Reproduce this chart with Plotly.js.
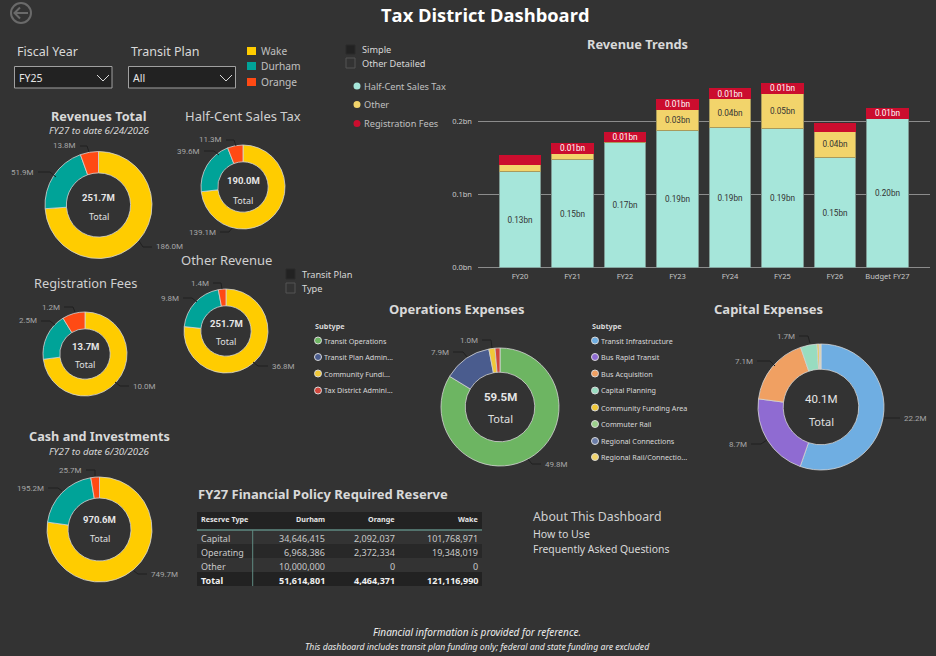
<!DOCTYPE html>
<html>
<head>
<meta charset="utf-8">
<script src="https://cdn.plot.ly/plotly-3.0.1.min.js"></script>
<style>html,body{margin:0;padding:0;background:#333333;overflow:hidden}#chart{width:936px;height:656px}</style>
</head>
<body>
<div id="chart"></div>
<script>
// ---------- data ----------
var districts = ['Wake', 'Durham', 'Orange'];
var districtColors = ['#FFCC00', '#00A398', '#FF4A14'];
var revenuesTotal = [186.0, 51.9, 13.8];
var halfCent = [139.1, 39.6, 11.3];
var registrationFees = [10.0, 2.5, 1.2];
var otherRevenue = [36.8, 9.8, 1.4];
var cashInvestments = [749.7, 195.2, 25.7];

var opsSubtypes = ['Transit Operations', 'Transit Plan Admin...', 'Community Fundi...', 'Tax District Admini...'];
var opsColors = ['#6DB562', '#4A5C8E', '#F0C838', '#D0463C'];
var opsValues = [49.8, 7.9, 1.0, 0.8];

var capSubtypes = ['Transit Infrastructure', 'Bus Rapid Transit', 'Bus Acquisition', 'Capital Planning', 'Community Funding Area', 'Commuter Rail', 'Regional Connections', 'Regional Rail/Connectio...'];
var capColors = ['#6FAEE2', '#8F6BD2', '#F0A062', '#98DCC0', '#F0C838', '#9CD08C', '#6A7CA8', '#F2D46B'];
var capValues = [22.2, 8.7, 7.1, 1.7, 0.2, 0.05, 0.05, 0.1];

var fiscalYears = ['FY20', 'FY21', 'FY22', 'FY23', 'FY24', 'FY25', 'FY26', 'Budget FY27'];
var salesTax = [0.131, 0.147, 0.171, 0.187, 0.191, 0.190, 0.1505, 0.203];
var otherRev = [0.010, 0.009, 0.0005, 0.0286, 0.0395, 0.048, 0.0355, 0.001];
var regFees = [0.012, 0.0136, 0.013, 0.014, 0.0136, 0.0136, 0.010, 0.0136];
var salesTaxText = ['0.13bn', '0.15bn', '0.17bn', '0.19bn', '0.19bn', '0.19bn', '0.15bn', '0.20bn'];
var otherRevText = ['', '', '', '0.03bn', '0.04bn', '0.05bn', '0.04bn', ''];
var regFeesText = ['', '0.01bn', '0.01bn', '0.01bn', '0.01bn', '0.01bn', '', '0.01bn'];

var reserveHeader = ['Reserve Type', 'Durham', 'Orange', 'Wake'];
var reserveTypes = ['Capital', 'Operating', 'Other', 'Total'];
var reserveDurham = ['34,646,415', '6,968,386', '10,000,000', '51,614,801'];
var reserveOrange = ['2,092,037', '2,372,334', '0', '4,464,371'];
var reserveWake = ['101,768,971', '19,348,019', '0', '121,116,990'];

// ---------- helpers ----------
var W = 936, H = 656;
var BODY = '"Noto Sans", sans-serif', NUM = 'Roboto, sans-serif';
function X(p) { return p / W; }
function Y(p) { return 1 - p / H; }
var annotations = [], shapes = [], traces = [];

function txt(x, y, t, o) {
  o = o || {};
  annotations.push({
    xref: 'paper', yref: 'paper', x: X(x), y: Y(y), text: t, showarrow: false,
    xanchor: o.anchor || 'center', yanchor: 'middle', borderpad: 0,
    font: { family: o.family || BODY, size: o.size || 10, color: o.color || '#d9d9d9' }
  });
}
function path(d, o) {
  shapes.push({ type: 'path', xref: 'paper', yref: 'paper', path: d,
    line: { color: o.line || 'rgba(0,0,0,0)', width: o.width === undefined ? 1 : o.width },
    fillcolor: o.fill || 'rgba(0,0,0,0)', layer: o.layer || 'above' });
}
function pxPath(points) {
  return points.map(function (p, i) { return (i ? 'L' : 'M') + X(p[0]) + ',' + Y(p[1]); }).join(' ');
}
function rect(x0, y0, x1, y1, o) {
  shapes.push({ type: 'rect', xref: 'paper', yref: 'paper', x0: X(x0), x1: X(x1), y0: Y(y0), y1: Y(y1),
    line: { color: o.line || 'rgba(0,0,0,0)', width: o.width === undefined ? 1 : o.width },
    fillcolor: o.fill || 'rgba(0,0,0,0)', layer: o.layer || 'above' });
}
function dot(x, y, r, o) {
  shapes.push({ type: 'circle', xref: 'paper', yref: 'paper', x0: X(x - r), x1: X(x + r), y0: Y(y + r), y1: Y(y - r),
    line: { color: o.line || 'rgba(0,0,0,0)', width: o.width === undefined ? 1 : o.width },
    fillcolor: o.fill || 'rgba(0,0,0,0)', layer: 'above' });
}

// g: placement of one donut; g.leaders: per labelled slice, three pixel points of the elbow from the label to the ring
function donut(g, names, values, colors) {
  traces.push({
    type: 'pie', labels: names, values: values, hole: g.hole, sort: false, direction: 'clockwise', rotation: 0,
    textinfo: 'none', hoverinfo: 'skip', showlegend: false,
    marker: { colors: colors, line: { color: '#d4d4d4', width: 0.8 } },
    domain: { x: [X(g.cx - g.r), X(g.cx + g.r)], y: [Y(g.cy + g.r), Y(g.cy - g.r)] }
  });
  txt(g.cx, g.yNum, g.total, { size: g.numSize, family: NUM, color: '#e6e6e6' });
  txt(g.cx, g.yTot, 'Total', { size: g.totSize, color: '#e0e0e0' });
  g.leaders.forEach(function (pts, i) {
    if (!pts) return;
    path(pxPath(pts), { line: '#202020', width: 1 });
    var right = pts[0][0] > g.cx;
    txt(pts[0][0] + (right ? 3 : -3), pts[0][1], values[i].toFixed(1) + 'M',
      { size: 8, color: '#a6a6a6', anchor: right ? 'left' : 'right', family: NUM });
  });
}

// ---------- donuts ----------
donut({ cx: 98.5, cy: 205, r: 53.5, hole: 0.6, total: '<b>251.7M</b>', numSize: 9.5, totSize: 9, yNum: 197, yTot: 216,
  leaders: [[[152, 247], [143, 247], [139, 241]], [[38, 172], [50, 172], [56, 177]], [[80, 146], [87, 146], [89, 152]]] },
  districts, revenuesTotal, districtColors);
donut({ cx: 243, cy: 187, r: 42, hole: 0.6, total: '<b>190.0M</b>', numSize: 9.5, totSize: 9, yNum: 181, yTot: 200,
  leaders: [[[220, 232], [229, 232], [232, 228]], [[204, 151], [214, 151], [219, 155]], [[226, 140], [234, 140], [236, 146]]] },
  districts, halfCent, districtColors);
donut({ cx: 85, cy: 354, r: 42, hole: 0.6, total: '<b>13.7M</b>', numSize: 9.5, totSize: 9, yNum: 346, yTot: 364,
  leaders: [[[129, 386], [120, 386], [115, 382]], [[41, 321], [50, 321], [55, 325]], [[64, 307], [73, 307], [75, 312]]] },
  districts, registrationFees, districtColors);
donut({ cx: 226, cy: 331, r: 42, hole: 0.6, total: '<b>251.7M</b>', numSize: 9.5, totSize: 9, yNum: 323, yTot: 341,
  leaders: [[[268, 366], [258, 366], [253, 362]], [[183, 298], [192, 298], [197, 302]], [[213, 283], [221, 283], [222, 289]]] },
  districts, otherRevenue, districtColors);
donut({ cx: 99.5, cy: 529.5, r: 52.5, hole: 0.6, total: '<b>970.6M</b>', numSize: 9.5, totSize: 9, yNum: 519, yTot: 538,
  leaders: [[[147, 574], [138, 574], [134, 571]], [[48, 488], [58, 488], [62, 491]], [[86, 470], [95, 470], [95, 476]]] },
  districts, cashInvestments, districtColors);
donut({ cx: 500, cy: 407, r: 59, hole: 0.59, total: '<b>59.5M</b>', numSize: 11.5, totSize: 11, yNum: 397, yTot: 418,
  leaders: [[[541, 464], [532, 464], [528, 459]], [[453, 352], [463, 352], [467, 357]], [[482, 340], [491, 340], [492, 348]], null] },
  opsSubtypes, opsValues, opsColors);
donut({ cx: 821, cy: 407, r: 63, hole: 0.6, total: '40.1M', numSize: 11.5, totSize: 11, yNum: 399, yTot: 421,
  leaders: [[[900, 418], [892, 418], [884, 418]], [[751, 444], [761, 444], [767, 440]], [[757, 361], [770, 361], [775, 366]], [[799, 336], [808, 336], [810, 343]], null, null, null, null] },
  capSubtypes, capValues, capColors);

// ---------- bars ----------
function barTrace(name, vals, texts, color, textColor, edge) {
  return {
    type: 'bar', name: name, x: fiscalYears, y: vals, text: texts, textposition: 'inside',
    insidetextanchor: 'middle', textangle: 0, constraintext: 'none', cliponaxis: false,
    textfont: { family: NUM, size: 8.2, color: textColor }, hoverinfo: 'skip', showlegend: false,
    marker: { color: color, line: { color: edge, width: 1 } }, xaxis: 'x', yaxis: 'y'
  };
}
traces.push(barTrace('Half-Cent Sales Tax', salesTax, salesTaxText, '#A6E6DA', '#333333', '#7E9A94'));
traces.push(barTrace('Other', otherRev, otherRevText, '#F2D46B', '#333333', '#A89A5C'));
traces.push(barTrace('Registration Fees', regFees, regFeesText, '#CB0D2E', '#ffffff', '#CB0D2E'));

// ---------- reserve table ----------
rect(197, 512, 482, 530, { fill: '#222222', width: 0 });
rect(197, 544, 482, 558, { fill: '#282828', width: 0 });
rect(197, 572, 482, 586, { fill: '#222222', width: 0 });
var colX = [200, 326, 396, 479.5];
reserveHeader.forEach(function (h, c) {
  txt(colX[c], 519, '<b>' + h + '</b>', { size: 7.2, anchor: c ? 'right' : 'left', color: '#e6e6e6' });
});
[reserveTypes, reserveDurham, reserveOrange, reserveWake].forEach(function (col, c) {
  col.forEach(function (v, r) {
    txt(colX[c], 538 + r * 14, r === 3 ? '<b>' + v + '</b>' : v,
      { size: 9, anchor: c ? 'right' : 'left', color: r === 3 ? '#f0f0f0' : '#c8c8c8' });
  });
});
path(pxPath([[197, 530], [482, 530]]), { line: '#5F8A82', width: 1.5 });
path(pxPath([[252.7, 530], [252.7, 586]]), { line: '#5F8A82', width: 1 });

// ---------- titles and text ----------
txt(485.5, 15, '<b>Tax District Dashboard</b>', { size: 18.3, color: '#ffffff', family: '"Open Sans", sans-serif' });
txt(637, 44, '<b>Revenue Trends</b>', { size: 12.8 });
txt(98.5, 116, '<b>Revenues Total</b>', { size: 12.7 });
txt(99, 130.5, '<i>FY27 to date 6/24/2026</i>', { size: 9.7 });
txt(243, 116, 'Half-Cent Sales Tax', { size: 13, color: '#d0d0d0' });
txt(85, 283, 'Registration Fees', { size: 12.8, color: '#d0d0d0' });
txt(226, 260, 'Other Revenue', { size: 13, color: '#d0d0d0' });
txt(99.5, 436, '<b>Cash and Investments</b>', { size: 12.7 });
txt(99, 451, '<i>FY27 to date 6/30/2026</i>', { size: 9.7 });
txt(457, 309, '<b>Operations Expenses</b>', { size: 13 });
txt(768, 309, '<b>Capital Expenses</b>', { size: 13 });
txt(197, 494, '<b>FY27 Financial Policy Required Reserve</b>', { size: 13, anchor: 'left' });
txt(531.5, 516, 'About This Dashboard', { size: 12.3, anchor: 'left', color: '#d0d0d0' });
txt(531.5, 534, 'How to Use', { size: 10.6, anchor: 'left' });
txt(531.5, 549, 'Frequently Asked Questions', { size: 10.4, anchor: 'left' });
txt(477, 632, '<i>Financial information is provided for reference.</i>', { size: 10, color: '#ececec' });
txt(478, 647, '<i>This dashboard includes transit plan funding only; federal and state funding are excluded</i>', { size: 8.7, color: '#ececec' });

// slicers
txt(16, 52, 'Fiscal Year', { size: 12.5, anchor: 'left' });
txt(130, 52, 'Transit Plan', { size: 12.5, anchor: 'left' });
rect(14.5, 66.5, 112, 88, { line: '#a0a0a0', fill: '#222222' });
rect(128.5, 66.5, 235.5, 88, { line: '#a0a0a0', fill: '#222222' });
txt(18, 78.5, 'FY25', { size: 10.5, anchor: 'left', color: '#e6e6e6' });
txt(132, 78.5, 'All', { size: 10.5, anchor: 'left', color: '#e6e6e6' });
path(pxPath([[97, 75], [103, 81], [109, 75]]), { line: '#d9d9d9', width: 1 });
path(pxPath([[220, 75], [226, 81], [232, 75]]), { line: '#d9d9d9', width: 1 });

// district legend
districts.forEach(function (d, i) {
  var y = [51, 66, 82][i];
  rect(247, y - 4, 256, y + 4, { fill: districtColors[i], width: 0 });
  txt(260, y, d, { size: 10.2, anchor: 'left', color: '#c0c0c0' });
});

// bookmark toggles
rect(346, 45, 355, 54, { fill: '#222222', line: '#2a2a2a' });
rect(346, 58, 355, 68, { line: '#555555' });
txt(361, 49.5, 'Simple', { size: 9.2, anchor: 'left' });
txt(361, 63, 'Other Detailed', { size: 9.2, anchor: 'left' });
rect(286, 269, 295, 279, { fill: '#222222', line: '#2a2a2a' });
rect(286, 283, 295, 293, { line: '#555555' });
txt(301, 274.5, 'Transit Plan', { size: 9.2, anchor: 'left' });
txt(301, 288.5, 'Type', { size: 9.2, anchor: 'left' });

// bar legend
['Half-Cent Sales Tax', 'Other', 'Registration Fees'].forEach(function (n, i) {
  var y = [86, 104.5, 123.5][i];
  dot(357, y, 3.5, { fill: ['#A6E6DA', '#F2D46B', '#CB0D2E'][i], width: 0 });
  txt(363, y, n, { size: 9.2, anchor: 'left', color: '#c0c0c0' });
});

// subtype legends
var legY = [340.5, 357, 373.5, 390.5, 407.5, 424, 441, 457];
txt(314, 326, '<b>Subtype</b>', { size: 7.3, anchor: 'left' });
opsSubtypes.forEach(function (n, i) {
  dot(318, legY[i], 3.5, { fill: opsColors[i], line: '#d9d9d9', width: 1 });
  txt(323, legY[i], n, { size: 7.2, anchor: 'left' });
});
txt(591, 326, '<b>Subtype</b>', { size: 7.3, anchor: 'left' });
capSubtypes.forEach(function (n, i) {
  dot(595, legY[i], 3.5, { fill: capColors[i], line: '#d9d9d9', width: 1 });
  txt(600, legY[i], n, { size: 7.2, anchor: 'left' });
});

// back button
dot(21, 13, 10, { line: '#6a6a6a', width: 2 });
path(pxPath([[28, 13], [15, 13]]), { line: '#6a6a6a', width: 2 });
path(pxPath([[20, 7.5], [14.5, 13], [20, 18.5]]), { line: '#6a6a6a', width: 2 });

var layout = {
  width: W, height: H, autosize: false,
  margin: { l: 0, r: 0, t: 0, b: 0, pad: 0 },
  paper_bgcolor: '#333333', plot_bgcolor: 'rgba(0,0,0,0)',
  barmode: 'stack', bargap: 0.213, showlegend: false, hovermode: false,
  xaxis: {
    domain: [X(478), X(930)], range: [-0.8, 7.81], type: 'category', fixedrange: true,
    showgrid: false, zeroline: false, showline: false, ticks: '', ticklen: 0, ticklabelstandoff: 3,
    tickangle: 0, tickfont: { family: BODY, size: 7.5, color: '#c8c8c8' }
  },
  yaxis: {
    domain: [Y(267.7), Y(77)], range: [0, 0.26], tickvals: [0, 0.1, 0.2], ticktext: ['0.0bn', '0.1bn', '0.2bn'],
    fixedrange: true, showgrid: true, gridcolor: '#8c8c8c', gridwidth: 1, ticklabelstandoff: 5,
    zeroline: true, zerolinecolor: '#8c8c8c', zerolinewidth: 1, showline: false, ticks: '',
    tickfont: { family: BODY, size: 7.5, color: '#c8c8c8' }
  },
  annotations: annotations, shapes: shapes
};
Plotly.newPlot('chart', traces, layout, { displayModeBar: false, staticPlot: true, responsive: false });
</script>
</body>
</html>
